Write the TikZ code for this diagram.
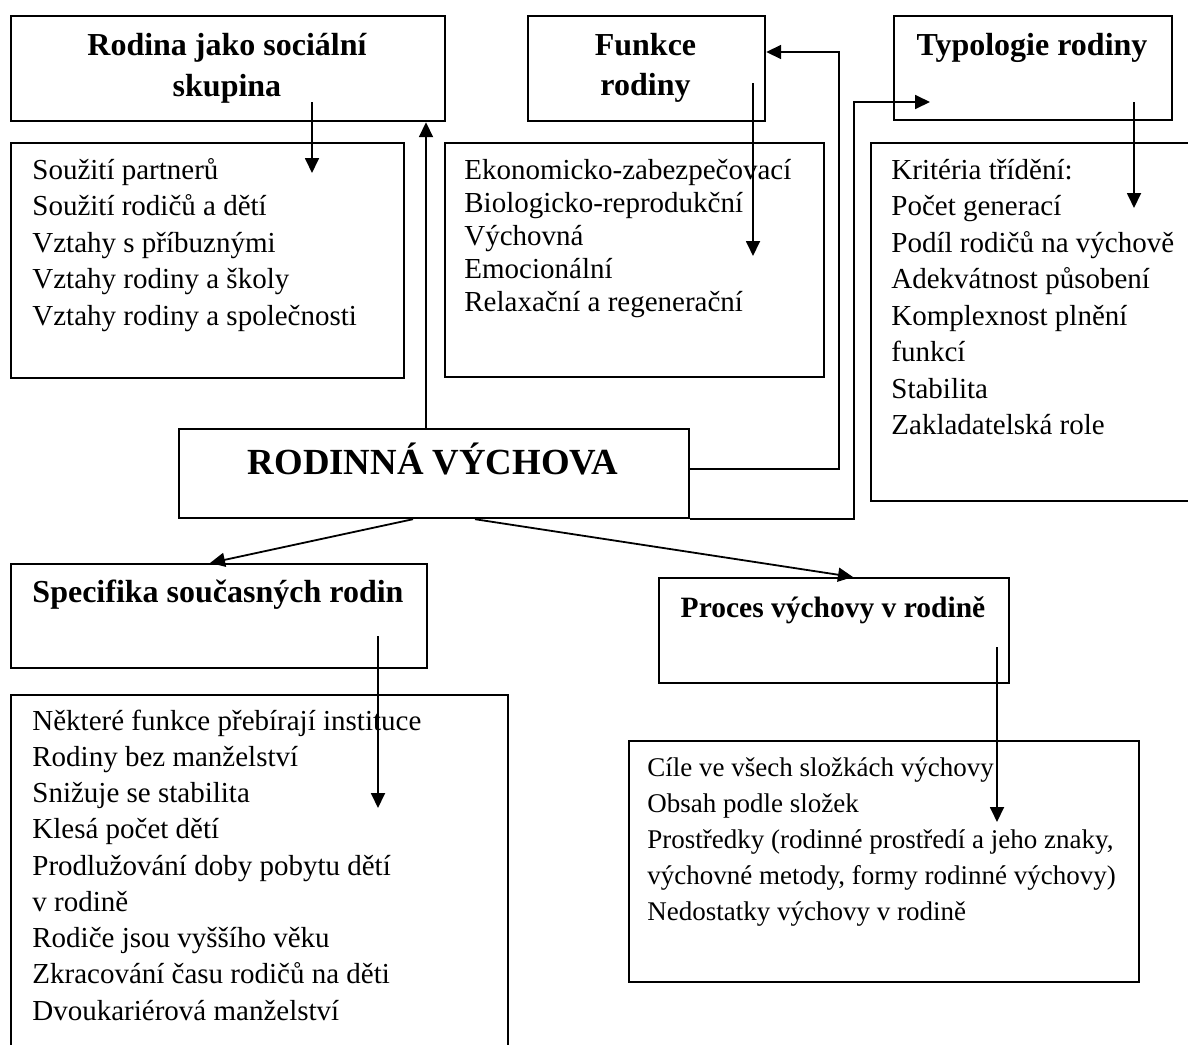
\documentclass[tikz,border=0pt]{standalone}
\usepackage{fontspec}
\setmainfont{Liberation Serif}
\usetikzlibrary{arrows.meta}

\begin{document}
\begin{tikzpicture}[x=0.5pt,y=-0.5pt,
  frame/.style={draw, line width=1.1pt, inner sep=0pt, anchor=north west},
  conn/.style={line width=0.9pt},
  arr/.style={conn, -{Triangle[length=7.5pt,width=7pt]}},
  head/.style={font=\fontsize{16}{20}\selectfont\bfseries, inner sep=0pt, anchor=base},
  smallhead/.style={head, font=\fontsize{14.75}{18}\selectfont\bfseries},
  title/.style={font=\fontsize{18.4}{22}\selectfont\bfseries, inner sep=0pt, anchor=base},
  item/.style={font=\fontsize{14.5}{18}\selectfont, inner sep=0pt, anchor=base west},
  smallitem/.style={item, font=\fontsize{13.5}{17}\selectfont}]

\useasboundingbox (0,0) rectangle (1188,1044);
\clip (0,0) rectangle (1188,1044);

% heading boxes
\node[frame, minimum width=217pt, minimum height=52.5pt] (b1) at (10,15) {};
\node[frame, minimum width=118.5pt, minimum height=52.5pt] (b2) at (527,15) {};
\node[frame, minimum width=139pt, minimum height=52pt] (b3) at (893,15) {};
\node[frame, minimum width=208pt, minimum height=52pt] (b4) at (10,563) {};
\node[frame, minimum width=175pt, minimum height=52.5pt] (b5) at (658,577) {};
% central box
\node[frame, minimum width=255pt, minimum height=44.5pt] (rv) at (178,428) {};
% content boxes
\node[frame, minimum width=196.5pt, minimum height=117.5pt] (t1) at (10,142) {};
\node[frame, minimum width=189.5pt, minimum height=117pt] (t2) at (444,142) {};
\node[frame, minimum width=163pt, minimum height=179pt] (t3) at (870,142) {};
\node[frame, minimum width=248.5pt, minimum height=178pt] (t4) at (10,694) {};
\node[frame, minimum width=255pt, minimum height=120.5pt] (t5) at (628,740) {};

% headings
\node[head] (h1a) at (227,55) {Rodina jako sociální};
\node[head] (h1b) at (227,96) {skupina};
\node[head] (h2a) at (645.5,55) {Funkce};
\node[head] (h2b) at (645.5,95) {rodiny};
\node[head] (h3) at (1032,55) {Typologie rodiny};
\node[head] (h4) at (218,602) {Specifika současných rodin};
\node[smallhead] (h5) at (833,617) {Proces výchovy v rodině};
\node[title] (rvt) at (433,474) {RODINNÁ VÝCHOVA};

% lists
\foreach \t [count=\i] in {Soužití partnerů, Soužití rodičů a dětí,
    Vztahy s příbuznými, Vztahy rodiny a školy, Vztahy rodiny a společnosti}
  \node[item] (l1-\i) at (32,{179+36.5*(\i-1)}) {\t};
\foreach \t [count=\i] in {Ekonomicko-zabezpečovací, Biologicko-reprodukční,
    Výchovná, Emocionální, Relaxační a regenerační}
  \node[item] (l2-\i) at (464,{179+33.2*(\i-1)}) {\t};
\foreach \t [count=\i] in {Kritéria třídění:, Počet generací,
    Podíl rodičů na výchově, Adekvátnost působení, Komplexnost plnění,
    funkcí, Stabilita, Zakladatelská role}
  \node[item] (l3-\i) at (891,{179+36.5*(\i-1)}) {\t};
\foreach \t [count=\i] in {Některé funkce přebírají instituce,
    Rodiny bez manželství, Snižuje se stabilita, Klesá počet dětí,
    Prodlužování doby pobytu dětí, v rodině, Rodiče jsou vyššího věku,
    Zkracování času rodičů na děti, Dvoukariérová manželství}
  \node[item] (l4-\i) at (32,{730+36.25*(\i-1)}) {\t};
\foreach \t [count=\i] in {Cíle ve všech složkách výchovy, Obsah podle složek,
    {Prostředky (rodinné prostředí a jeho znaky,},
    {výchovné metody, formy rodinné výchovy)},
    Nedostatky výchovy v rodině}
  \node[smallitem] (l5-\i) at (647,{776+36*(\i-1)}) {\t};

% arrows from headings into their lists
\coordinate (a1s) at (312,102); \coordinate (a1e) at (312,173);
\coordinate (a2s) at (753,83);  \coordinate (a2e) at (753,256);
\coordinate (a3s) at (1134,102); \coordinate (a3e) at (1134,208);
\coordinate (a4s) at (378,636); \coordinate (a4e) at (378,808);
\coordinate (a5s) at (997,647); \coordinate (a5e) at (997,822);
\draw[arr] (a1s) -- (a1e);
\draw[arr] (a2s) -- (a2e);
\draw[arr] (a3s) -- (a3e);
\draw[arr] (a4s) -- (a4e);
\draw[arr] (a5s) -- (a5e);

% connectors from the central box
\coordinate (up) at (426,0);
\draw[arr] (up |- rv.north) -- (up |- b1.south);

\coordinate (fk) at (839,52);
\draw[arr] (rv.east |- 0,469) -| (fk) -- (b2.east |- fk);

\coordinate (tk) at (854,102);
\coordinate (te) at (930,102);
\draw[arr] (rv.south east) -| (tk) -- (te);

\coordinate (ls) at (413,0); \coordinate (le) at (210,0);
\coordinate (rs) at (475,0); \coordinate (re) at (853,0);
\draw[arr] (ls |- rv.south) -- (le |- b4.north);
\draw[arr] (rs |- rv.south) -- (re |- b5.north);
\end{tikzpicture}
\end{document}
